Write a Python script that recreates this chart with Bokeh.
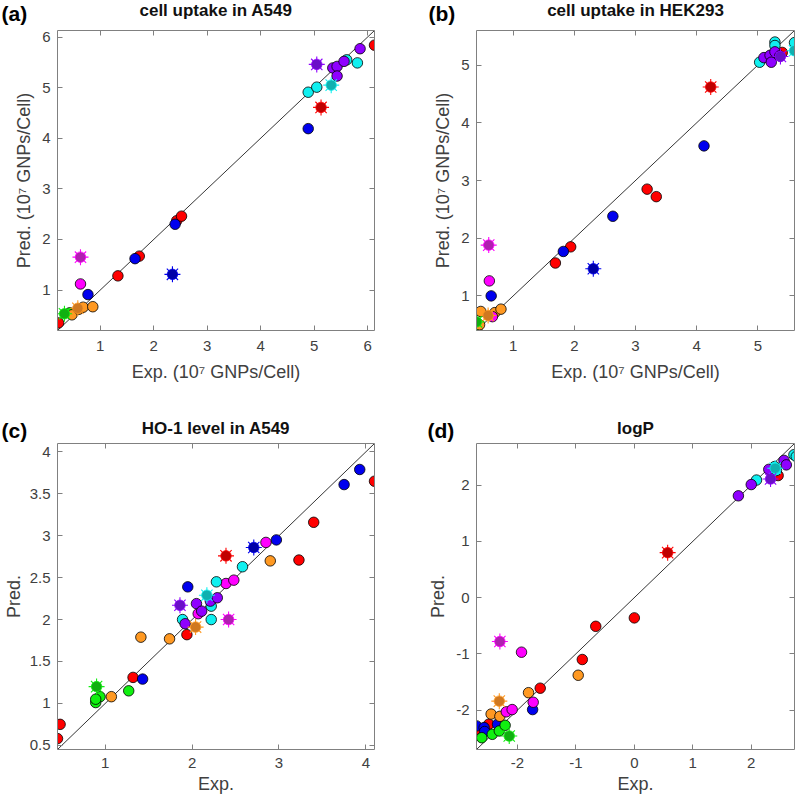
from bokeh.plotting import figure
from bokeh.models import Range1d, LinearAxis, FixedTicker, Slope, Label, CustomJSTickFormatter
from bokeh.layouts import column, row
from bokeh.embed import file_html
from bokeh.resources import INLINE

# ---------------- data ----------------
# panel (a): cell uptake in A549
a_exp = [0.22, 1.33, 1.73, 2.43, 2.52, 6.13, 5.13,
         0.77, 1.65, 2.40, 4.89, 2.35,
         0.43, 0.33,
         0.47, 0.60, 0.68, 0.86, 0.58,
         0.63, 0.63,
         4.89, 5.05, 5.61, 5.81, 5.32,
         5.35, 5.43, 5.43, 5.56, 5.86, 5.05]
a_pred = [0.35, 1.28, 1.67, 2.37, 2.46, 5.84, 4.61,
          0.91, 1.62, 2.30, 4.19, 1.31,
          0.55, 0.53,
          0.51, 0.62, 0.66, 0.67, 0.64,
          1.12, 1.65,
          4.91, 5.01, 5.55, 5.49, 5.05,
          5.39, 5.42, 5.23, 5.52, 5.77, 5.46]
a_grp = ["red"] * 7 + ["blue"] * 5 + ["green"] * 2 + ["orange"] * 5 + ["magenta"] * 2 + ["cyan"] * 5 + ["purple"] * 6
a_star = [0, 0, 0, 0, 0, 0, 1,
          0, 0, 0, 0, 1,
          0, 1,
          0, 0, 0, 0, 1,
          0, 1,
          0, 0, 0, 0, 1,
          0, 0, 0, 0, 0, 1]

# panel (b): cell uptake in HEK293
b_exp = [1.69, 1.94, 3.19, 3.34, 5.40, 4.23,
         0.64, 1.82, 2.63, 4.12, 2.31,
         0.41, 0.40,
         0.47, 0.70, 0.80, 0.45, 0.59,
         0.61, 0.66, 0.60,
         5.03, 5.28, 5.28, 5.60, 5.60,
         5.10, 5.20, 5.22, 5.28, 5.36, 5.37]
b_pred = [1.57, 1.85, 2.85, 2.72, 5.22, 4.62,
          1.00, 1.77, 2.38, 3.60, 1.47,
          0.45, 0.55,
          0.73, 0.71, 0.77, 0.50, 0.66,
          1.26, 0.64, 1.88,
          5.05, 5.40, 5.34, 5.39, 5.25,
          5.13, 5.17, 5.05, 5.23, 5.16, 5.15]
b_grp = ["red"] * 6 + ["blue"] * 5 + ["green"] * 2 + ["orange"] * 5 + ["magenta"] * 3 + ["cyan"] * 5 + ["purple"] * 6
b_star = [0, 0, 0, 0, 0, 1,
          0, 0, 0, 0, 1,
          0, 1,
          0, 0, 0, 0, 1,
          0, 0, 1,
          0, 0, 0, 0, 1,
          0, 0, 0, 0, 0, 1]

# panel (c): HO-1 level in A549
c_exp = [0.45, 0.48, 1.32, 1.94, 3.23, 3.40, 4.10, 2.39,
         1.43, 1.95, 2.97, 3.75, 3.93, 2.71,
         0.89, 0.94, 0.89, 1.27, 0.90,
         1.07, 1.41, 1.74, 2.90, 2.04,
         1.89, 2.22, 2.22, 2.28, 2.58, 2.17,
         1.92, 2.05, 2.11, 2.21, 2.29, 1.86,
         2.07, 2.39, 2.48, 2.85, 2.42]
c_pred = [0.58, 0.75, 1.31, 1.82, 2.71, 3.16, 3.65, 2.76,
          1.29, 2.39, 2.95, 3.61, 3.79, 2.86,
          1.01, 1.08, 1.05, 1.15, 1.20,
          1.08, 1.79, 1.77, 2.70, 1.91,
          2.00, 2.00, 2.16, 2.45, 2.63, 2.29,
          1.95, 2.19, 2.10, 2.22, 2.26, 2.17,
          2.07, 2.43, 2.47, 2.92, 2.00]
c_grp = ["red"] * 8 + ["blue"] * 6 + ["green"] * 5 + ["orange"] * 5 + ["cyan"] * 6 + ["purple"] * 6 + ["magenta"] * 5
c_star = [0, 0, 0, 0, 0, 0, 0, 1,
          0, 0, 0, 0, 0, 1,
          0, 0, 0, 0, 1,
          0, 0, 0, 0, 1,
          0, 0, 0, 0, 0, 1,
          0, 0, 0, 0, 0, 1,
          0, 0, 0, 0, 1]

# panel (d): logP
d_exp = [-2.70, -2.49, -1.61, -0.89, -0.66, 0.00, 2.46, 0.57,
         -2.70, -2.57, -2.34, -1.74, -2.56,
         -2.61, -2.43, -2.31, -2.21, -2.14,
         -2.45, -2.30, -1.81, -0.96, -2.31,
         -2.19, -2.09, -1.73, -1.93, -2.30,
         1.78, 2.00, 2.30, 2.56, 2.60, 2.33,
         2.09, 2.40, 2.43, 2.73, 2.77, 2.41]
d_pred = [-2.34, -2.25, -1.61, -1.10, -0.51, -0.36, 2.17, 0.80,
          -2.28, -2.31, -2.25, -1.99, -2.38,
          -2.49, -2.43, -2.37, -2.27, -2.46,
          -2.07, -2.11, -1.69, -1.38, -1.84,
          -2.03, -1.99, -1.86, -0.97, -0.78,
          1.81, 2.01, 2.28, 2.44, 2.36, 2.11,
          2.09, 2.33, 2.26, 2.54, 2.51, 2.30]
d_grp = ["red"] * 8 + ["blue"] * 5 + ["green"] * 5 + ["orange"] * 5 + ["magenta"] * 5 + ["purple"] * 6 + ["cyan"] * 6
d_star = [0, 0, 0, 0, 0, 0, 0, 1,
          0, 0, 0, 0, 0,
          0, 0, 0, 0, 1,
          0, 0, 0, 0, 1,
          0, 0, 0, 0, 1,
          0, 0, 0, 0, 0, 1,
          0, 0, 0, 0, 0, 1]

# axis limits and ticks
a_lim = [0.2, 6.13]
b_lim = [0.4, 5.6]
c_lim = [0.45, 4.1]
d_lim = [-2.7, 2.74]
a_ticks = [1, 2, 3, 4, 5, 6]
b_ticks = [1, 2, 3, 4, 5]
c_xticks = [1, 2, 3, 4]
c_yticks = [0.5, 1, 1.5, 2, 2.5, 3, 3.5, 4]
d_ticks = [-2, -1, 0, 1, 2]

titles = ["cell uptake in A549", "cell uptake in HEK293", "HO-1 level in A549", "logP"]
letters = ["(a)", "(b)", "(c)", "(d)"]
xl_cell = "Exp. (10\u2077 GNPs/Cell)"
yl_cell = "Pred. (10\u2077 GNPs/Cell)"

# ---------------- styling ----------------
FILL = {"red": "#FF0000", "blue": "#0000EE", "green": "#10F010", "orange": "#FF9922",
        "magenta": "#FF00FF", "cyan": "#10F0F0", "purple": "#8F00FF"}
DARK = {"red": "#C00000", "blue": "#0000A8", "green": "#10B010", "orange": "#D07820",
        "magenta": "#B020B0", "cyan": "#10B0B0", "purple": "#6A10C8"}
ORDER = ["red", "blue", "green", "orange", "magenta", "cyan", "purple"]

SANS = "Liberation Sans"
AXC = "#808080"
TXT = "#404040"

# layout geometry (px)
COL_W = [400, 398]
LEFT_B = [57, 76]
RIGHT_B = [26, 4]
STRIP1_H = 26
ROW1_H = 363
STRIP2_H = 54
ROW2_H = 356


def style_axis(ax, ticks, label=None, hidden=False, standoff=7, lab_standoff=5):
    ax.ticker = FixedTicker(ticks=ticks)
    ax.formatter = CustomJSTickFormatter(code="return tick.toString();")
    ax.major_tick_in = 5
    ax.major_tick_out = 0
    ax.minor_tick_line_color = None
    ax.axis_line_color = AXC
    ax.major_tick_line_color = AXC
    ax.major_label_text_font = SANS
    if hidden:
        ax.major_label_text_font_size = "1px"
        ax.major_label_text_color = None
        ax.major_label_standoff = 0
        return
    ax.major_label_text_font_size = "15px"
    ax.major_label_text_color = TXT
    ax.major_label_standoff = standoff
    if label is not None:
        ax.axis_label = label
        ax.axis_label_text_font = SANS
        ax.axis_label_text_font_size = "18px"
        ax.axis_label_text_font_style = "normal"
        ax.axis_label_text_color = TXT
        ax.axis_label_standoff = lab_standoff


def panel(exp, pred, grp, star, xlim, ylim, xticks, yticks, xlabel, ylabel,
          col, height, top_b, bottom_b, xstand, xlabstand, ylabstand):
    p = figure(width=COL_W[col], height=height, x_range=Range1d(*xlim), y_range=Range1d(*ylim),
               output_backend="svg", toolbar_location=None,
               min_border_left=LEFT_B[col], min_border_right=RIGHT_B[col],
               min_border_top=top_b, min_border_bottom=bottom_b)
    p.grid.visible = False
    p.outline_line_color = None
    style_axis(p.xaxis[0], xticks, xlabel, standoff=xstand, lab_standoff=xlabstand)
    style_axis(p.yaxis[0], yticks, ylabel, standoff=7, lab_standoff=ylabstand)
    top = LinearAxis()
    style_axis(top, xticks, hidden=True)
    right = LinearAxis()
    style_axis(right, yticks, hidden=True)
    p.add_layout(top, "above")
    p.add_layout(right, "right")

    p.add_layout(Slope(gradient=1, y_intercept=0, line_color="black", line_width=0.8, level="underlay"))

    for g in ORDER:
        xs = [x for x, gg, s in zip(exp, grp, star) if gg == g and not s]
        ys = [y for y, gg, s in zip(pred, grp, star) if gg == g and not s]
        if xs:
            p.scatter(xs, ys, marker="circle", size=10.5, fill_color=FILL[g],
                      line_color="black", line_width=0.8)
    for g in ORDER:
        xs = [x for x, gg, s in zip(exp, grp, star) if gg == g and s]
        ys = [y for y, gg, s in zip(pred, grp, star) if gg == g and s]
        if xs:
            p.scatter(xs, ys, marker="asterisk", size=16, line_color=FILL[g], line_width=1.1)
            p.scatter(xs, ys, marker="circle", size=10.5, fill_color=DARK[g],
                      line_color=FILL[g], line_width=0.8)
    return p


def strip(height, title_pair, letter_pair, title_mid, letter_mid, letter_x):
    """Text strip above a row of panels: panel titles and panel letters."""
    width = COL_W[0] + COL_W[1]
    s = figure(width=width, height=height, x_range=Range1d(0, width), y_range=Range1d(height, 0),
               output_backend="svg", toolbar_location=None, x_axis_type=None, y_axis_type=None,
               min_border=0)
    s.outline_line_color = None
    s.grid.visible = False
    for col in range(2):
        x0 = sum(COL_W[:col])
        fl = x0 + LEFT_B[col]
        fr = x0 + COL_W[col] - RIGHT_B[col]
        s.add_layout(Label(x=(fl + fr) / 2, y=title_mid, text=title_pair[col],
                           text_align="center", text_baseline="middle", text_font=SANS,
                           text_font_style="bold", text_font_size="17px", text_color="#111111"))
        s.add_layout(Label(x=x0 + letter_x[col], y=letter_mid, text=letter_pair[col],
                           text_align="left", text_baseline="middle", text_font=SANS,
                           text_font_style="bold", text_font_size="21px", text_color="black"))
    return s


s1 = strip(STRIP1_H, titles[:2], letters[:2], 10, 13, (1, 28))
pa = panel(a_exp, a_pred, a_grp, a_star, a_lim, a_lim, a_ticks, a_ticks, xl_cell, yl_cell,
           0, ROW1_H, 4, 59, 10, 8, 5)
pb = panel(b_exp, b_pred, b_grp, b_star, b_lim, b_lim, b_ticks, b_ticks, xl_cell, yl_cell,
           1, ROW1_H, 4, 59, 10, 8, 5)
s2 = strip(STRIP2_H, titles[2:], letters[2:], 39, 41, (1, 27))
pc = panel(c_exp, c_pred, c_grp, c_star, c_lim, c_lim, c_xticks, c_yticks, "Exp.", "Pred.",
           0, ROW2_H, 0, 50, 8, 3, 3)
pd_ = panel(d_exp, d_pred, d_grp, d_star, d_lim, d_lim, d_ticks, d_ticks, "Exp.", "Pred.",
            1, ROW2_H, 0, 50, 8, 3, 5)

layout = column(s1, row(pa, pb), s2, row(pc, pd_))

with open("out.html", "w") as f:
    f.write(file_html(layout, INLINE))
